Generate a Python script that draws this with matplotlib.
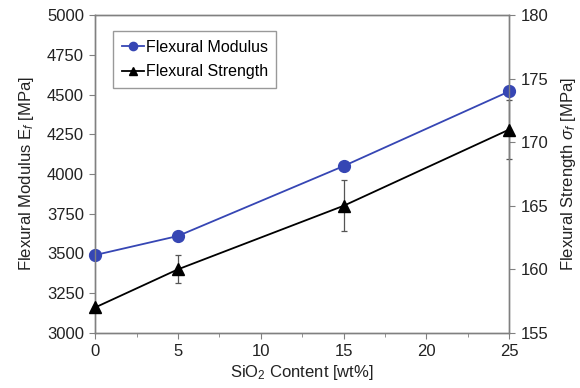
import matplotlib
matplotlib.use("Agg")
import matplotlib.pyplot as plt
from matplotlib.ticker import MultipleLocator

plt.rcParams['font.family'] = ['Liberation Sans', 'DejaVu Sans']
plt.rcParams['mathtext.fontset'] = 'custom'
plt.rcParams['mathtext.rm'] = 'Liberation Sans'
plt.rcParams['mathtext.it'] = 'Liberation Sans:italic'

# data
sio2 = [0, 5, 15, 25]
modulus = [3490, 3610, 4050, 4520]
strength = [157, 160, 165, 171]
strength_err = [0, 1.1, 2.0, 2.3]

blue = '#3646b4'
spine = '#808080'
txt = '#222222'

fig = plt.figure(figsize=(5.8, 3.88), dpi=100)
ax = fig.add_axes([0.164, 0.142, 0.714, 0.819])
ax2 = ax.twinx()

l1, = ax.plot(sio2, modulus, color=blue, lw=1.3, marker='o', ms=8.5,
              clip_on=False, zorder=5, label='Flexural Modulus')
ax2.errorbar(sio2, strength, yerr=strength_err, fmt='none', ecolor='#555555',
             elinewidth=0.9, capsize=2.5, capthick=0.9, clip_on=False)
l2, = ax2.plot(sio2, strength, color='black', lw=1.3, marker='^', ms=8.5,
               clip_on=False, zorder=5, label='Flexural Strength')

ax.set_xlim(0, 25)
ax.set_ylim(3000, 5000)
ax2.set_ylim(155, 180)
ax.xaxis.set_major_locator(MultipleLocator(5))
ax.xaxis.set_minor_locator(MultipleLocator(2.5))
ax.yaxis.set_major_locator(MultipleLocator(250))
ax2.yaxis.set_major_locator(MultipleLocator(5))

for a in (ax, ax2):
    for s in a.spines.values():
        s.set_color(spine)
        s.set_linewidth(1.0)
    a.tick_params(which='both', direction='out', color=spine, labelsize=12,
                  labelcolor=txt, pad=4)
    a.tick_params(which='major', length=4)
    a.tick_params(which='minor', length=3)

ax.set_xlabel(r'SiO$_2$ Content [wt%]', fontsize=12, color=txt, labelpad=3)
ax.set_ylabel(r'Flexural Modulus E$_{\mathit{f}}$ [MPa]', fontsize=12,
              color=txt, labelpad=8)
ax2.set_ylabel(r'Flexural Strength $\sigma_{\mathit{f}}$ [MPa]', fontsize=12,
               color=txt, labelpad=8)

leg = ax.legend(handles=[l1, l2], loc='upper left', bbox_to_anchor=(0.035, 0.96),
                fontsize=11.5, frameon=True, fancybox=False, handlelength=1.4,
                handletextpad=0.1, borderpad=0.55, labelspacing=0.6,
                borderaxespad=0.2, markerscale=0.7)
leg.get_frame().set_edgecolor(spine)
leg.get_frame().set_linewidth(1.0)

fig.savefig('out.png', dpi=100)
